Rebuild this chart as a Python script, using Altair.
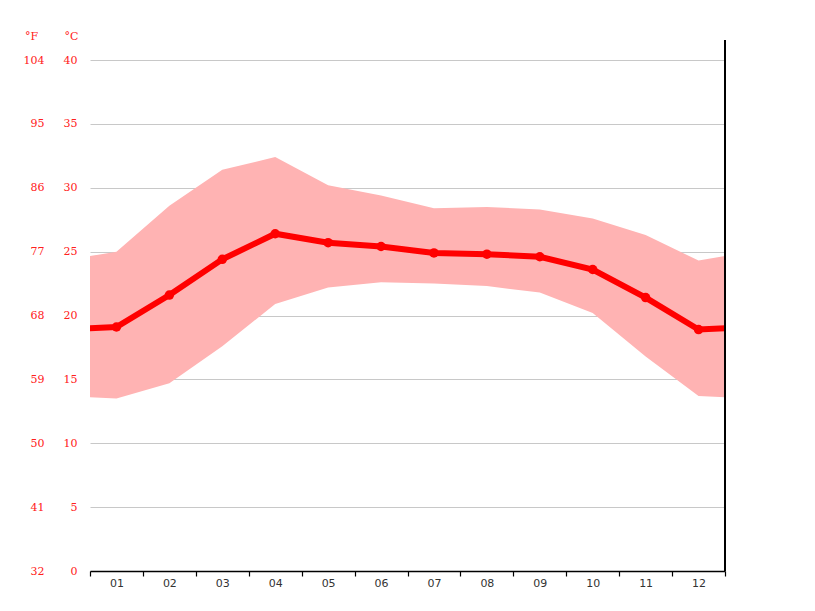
import altair as alt
import pandas as pd

months = list(range(1, 13))
month_labels = ["01", "02", "03", "04", "05", "06", "07", "08", "09", "10", "11", "12"]
mean_c = [19.1, 21.6, 24.4, 26.4, 25.7, 25.4, 24.9, 24.8, 24.6, 23.6, 21.4, 18.9]
high_c = [25.0, 28.6, 31.4, 32.4, 30.2, 29.4, 28.4, 28.5, 28.3, 27.6, 26.3, 24.3]
low_c = [13.5, 14.7, 17.6, 20.9, 22.2, 22.6, 22.5, 22.3, 21.8, 20.2, 16.8, 13.7]
c_ticks = [0, 5, 10, 15, 20, 25, 30, 35, 40]

# wrap December before January and January after December (clipped at the edges)
xs = [0] + months + [13]
df = pd.DataFrame({
    "m": xs,
    "mean": [mean_c[-1]] + mean_c + [mean_c[0]],
    "high": [high_c[-1]] + high_c + [high_c[0]],
    "low": [low_c[-1]] + low_c + [low_c[0]],
})
pts = pd.DataFrame({"m": months, "mean": mean_c})

W, H = 635, 511
tick_vals = [m + 0.5 for m in range(0, 13)]
xscale = alt.Scale(domain=[0.5, 12.5], nice=False, zero=False)
yscale = alt.Scale(domain=[0, 40], nice=False, zero=False)

x_tick_axis = alt.Axis(
    orient="bottom", values=tick_vals, labels=False,
    tickSize=5, tickColor="#000", domainColor="#000", domainWidth=1.5, tickWidth=1.2,
    grid=False, title=None,
)
label_expr = "[" + ",".join("'" + s + "'" for s in month_labels) + "][datum.value - 1]"
x_label_axis = alt.Axis(
    orient="bottom", values=months, labelExpr=label_expr,
    ticks=False, domain=False, grid=False, title=None,
    labelFont="DejaVu Sans", labelFontSize=11, labelColor="#333",
    labelPadding=6, labelFlush=False, labelOverlap=False,
)

c_axis = alt.Axis(
    values=c_ticks, grid=True, gridColor="#c8c8c8", domain=False, ticks=False,
    labelPadding=13, labelFont="DejaVu Serif", labelFontSize=11, labelColor="#ff2020",
    title="°C", titleAngle=0, titleX=-19, titleY=-24, titleAlign="center",
    titleBaseline="middle", titleFont="DejaVu Serif", titleFontSize=11,
    titleFontWeight="normal", titleColor="#ff2020",
)
f_axis = alt.Axis(
    orient="left", values=c_ticks, grid=False, domain=False, ticks=False,
    labelExpr="format(datum.value * 9 / 5 + 32, 'd')",
    labelPadding=46, labelFont="DejaVu Serif", labelFontSize=11, labelColor="#ff2020",
    title="°F", titleAngle=0, titleX=-59, titleY=-24, titleAlign="center",
    titleBaseline="middle", titleFont="DejaVu Serif", titleFontSize=11,
    titleFontWeight="normal", titleColor="#ff2020",
)

area = alt.Chart(df).mark_area(color="#ffb3b3", opacity=1, clip=True).encode(
    x=alt.X("m:Q", scale=xscale, axis=x_tick_axis),
    y=alt.Y("low:Q", scale=yscale, axis=c_axis),
    y2="high:Q",
)
line = alt.Chart(df).mark_line(color="#ff0000", strokeWidth=6, clip=True).encode(
    x=alt.X("m:Q", scale=xscale, axis=x_label_axis),
    y=alt.Y("mean:Q", scale=yscale, axis=f_axis),
)
points = alt.Chart(pts).mark_circle(color="#ff0000", size=90, opacity=1).encode(
    x=alt.X("m:Q", scale=xscale, axis=None),
    y=alt.Y("mean:Q", scale=yscale, axis=None),
)
right_rule = alt.Chart(pts).mark_rule(color="#000", strokeWidth=1.2).encode(
    x=alt.value(W), y=alt.value(-20), y2=alt.value(H)
)

chart = alt.layer(area, line, points, right_rule).resolve_scale(
    y="independent", x="independent"
).properties(
    width=W, height=H,
    background="white",
    padding={"left": 90, "top": 60, "right": 90, "bottom": 40},
    autosize=alt.AutoSizeParams(type="none"),
).configure_view(stroke=None)

chart.save("out.html", embed_options={"renderer": "svg", "actions": False})
